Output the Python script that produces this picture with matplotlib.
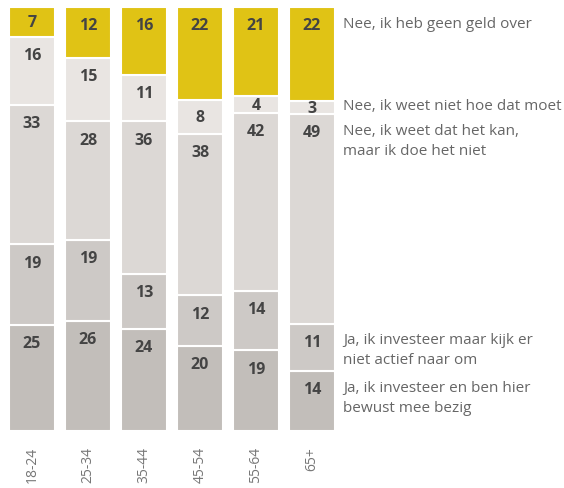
import matplotlib
matplotlib.use("Agg")
import matplotlib.pyplot as plt
import numpy as np

plt.rcParams["font.family"] = ["Open Sans", "DejaVu Sans"]

age_groups = ["18-24", "25-34", "35-44", "45-54", "55-64", "65+"]

# shares per answer, bottom of the stack first
bewust = [25, 26, 24, 20, 19, 14]
niet_actief = [19, 19, 13, 12, 14, 11]
doe_niet = [33, 28, 36, 38, 42, 49]
weet_niet_hoe = [16, 15, 11, 8, 4, 3]
geen_geld = [7, 12, 16, 22, 21, 22]

answers = [
    "Ja, ik investeer en ben hier\nbewust mee bezig",
    "Ja, ik investeer maar kijk er\nniet actief naar om",
    "Nee, ik weet dat het kan,\nmaar ik doe het niet",
    "Nee, ik weet niet hoe dat moet",
    "Nee, ik heb geen geld over",
]
colors = ["#c2beba", "#cdc9c6", "#dcd8d5", "#e9e5e2", "#e0c315"]

series = np.array([bewust, niet_actief, doe_niet, weet_niet_hoe, geen_geld], dtype=float)
shares = series / series.sum(axis=0) * 100

fig = plt.figure(figsize=(5.64, 4.89), dpi=100)
ax = fig.add_axes([0, 57 / 489, 1, 424 / 489])
x = np.arange(len(age_groups))

bottom = np.zeros(len(age_groups))
for k in range(len(answers)):
    ax.bar(x, shares[k], 0.82, bottom=bottom, color=colors[k],
           edgecolor="white", linewidth=1.5)
    for i in range(len(age_groups)):
        top = bottom[i] + shares[k][i]
        off = min(4.3, shares[k][i] / 2)
        ax.text(x[i], top - off, f"{int(series[k][i])}", ha="center", va="center",
                fontsize=11.5, fontweight="bold", color="#444444")
    # answer text next to the last bar, first line level with its value label
    last_top = bottom[-1] + shares[k][-1]
    off = min(4.3, shares[k][-1] / 2)
    ax.annotate(answers[k], xy=(5.55, last_top - off), xytext=(0, 7),
                textcoords="offset points", ha="left", va="top",
                fontsize=11, color="#666666", linespacing=1.45)
    bottom += shares[k]

ax.set_xlim(-32 / 56, (564 - 32) / 56)
ax.set_ylim(0, 100)
ax.set_xticks(x)
ax.set_xticklabels(age_groups, rotation=90, fontsize=10, color="#777777")
ax.tick_params(axis="x", length=0, pad=11)
ax.set_yticks([])
for s in ax.spines.values():
    s.set_visible(False)

fig.savefig("out.png", dpi=100)
